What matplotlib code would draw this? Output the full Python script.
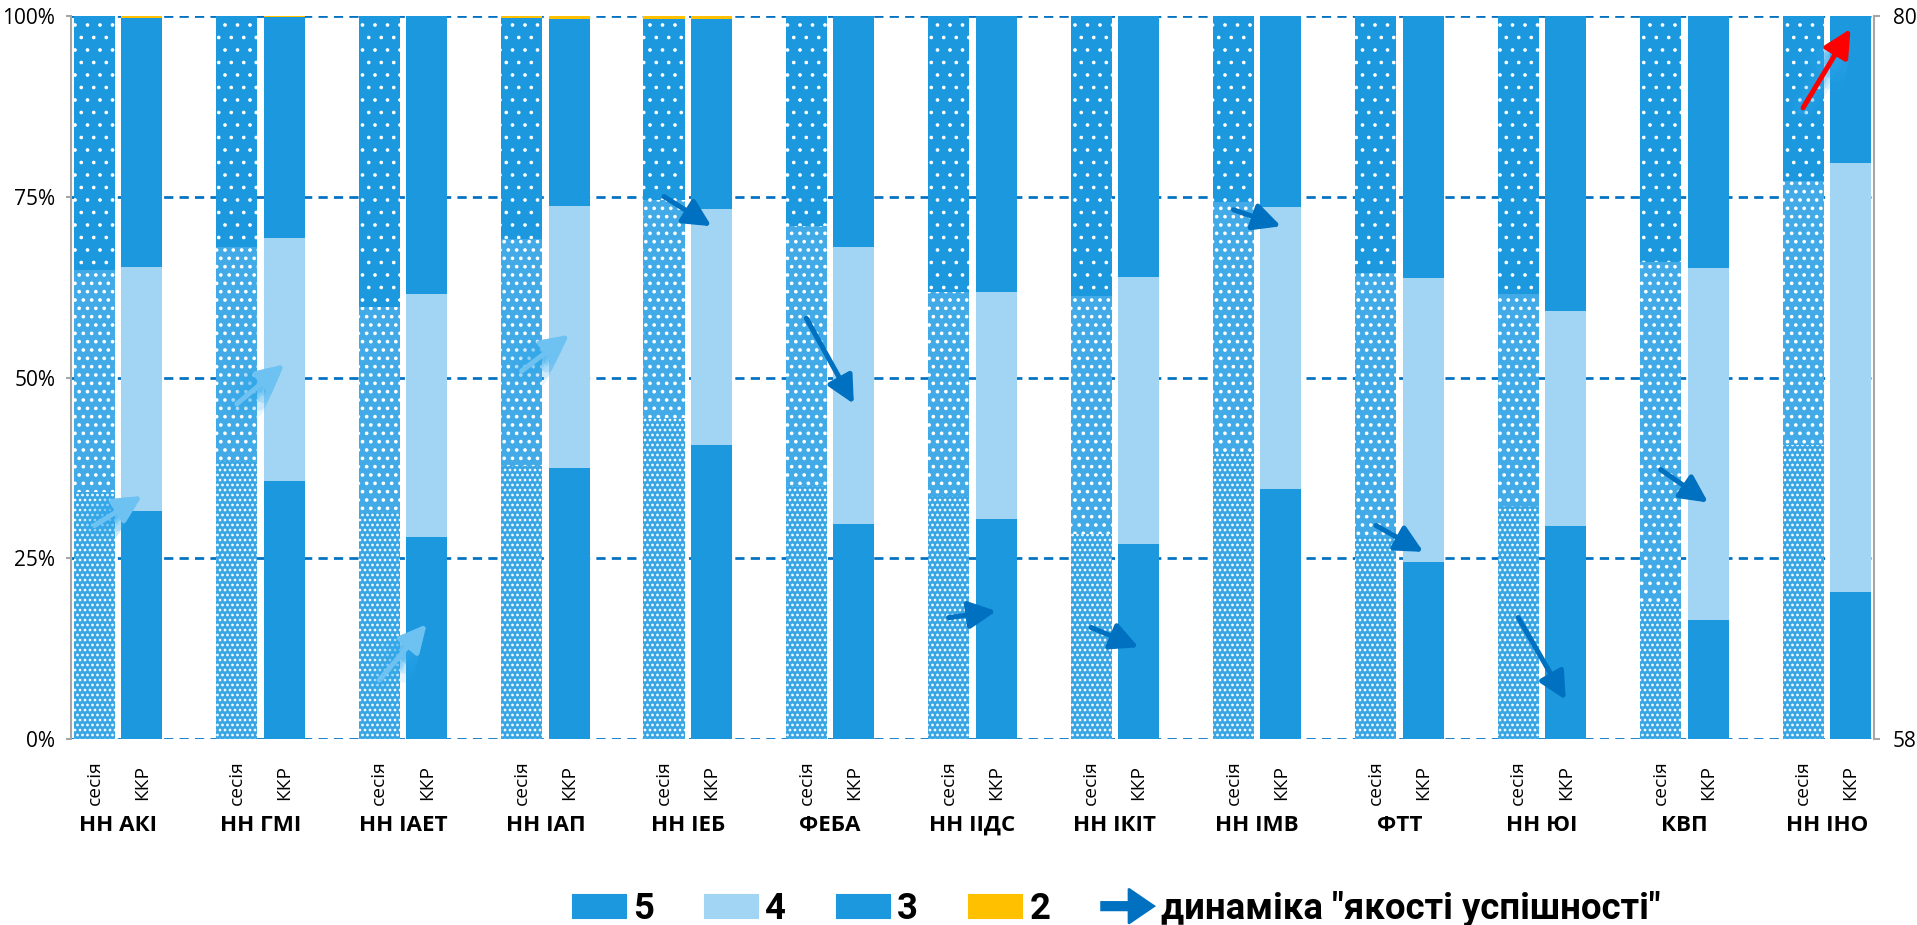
import matplotlib
matplotlib.use('Agg')
import matplotlib.pyplot as plt
import matplotlib.patches as mpatches
from matplotlib.patches import FancyArrowPatch
from matplotlib.legend_handler import HandlerPatch
import numpy as np

# ---- data (% of students by grade) ----
groups = ['НН АКІ', 'НН ГМІ', 'НН ІАЕТ', 'НН ІАП', 'НН ІЕБ', 'ФЕБА', 'НН ІІДС',
          'НН ІКІТ', 'НН ІМВ', 'ФТТ', 'НН ЮІ', 'КВП', 'НН ІНО']
bar_kinds = ['сесія', 'ККР']

ses_5 = [34.2, 38.5, 31.3, 37.8, 44.4, 35.0, 33.6, 28.4, 39.7, 27.9, 32.1, 18.7, 40.7]
ses_4 = [30.7, 29.6, 28.5, 31.3, 30.1, 35.9, 28.2, 32.9, 34.6, 36.6, 29.5, 47.3, 36.5]
ses_3 = [35.1, 31.9, 40.2, 30.6, 25.0, 29.1, 38.2, 38.7, 25.7, 35.5, 38.4, 34.0, 22.8]
ses_2 = [0.0, 0.0, 0.0, 0.3, 0.5, 0.0, 0.0, 0.0, 0.0, 0.0, 0.0, 0.0, 0.0]

kkr_5 = [31.6, 35.7, 28.0, 37.5, 40.7, 29.7, 30.4, 27.0, 34.6, 24.5, 29.5, 16.5, 20.3]
kkr_4 = [33.7, 33.6, 33.5, 36.2, 32.6, 38.4, 31.4, 36.9, 39.0, 39.2, 29.7, 48.6, 59.4]
kkr_3 = [34.4, 30.5, 38.5, 25.9, 26.2, 31.9, 38.2, 36.1, 26.4, 36.3, 40.8, 34.9, 20.3]
kkr_2 = [0.3, 0.2, 0.0, 0.4, 0.5, 0.0, 0.0, 0.0, 0.0, 0.0, 0.0, 0.0, 0.0]

# "якість успішності" (right axis, 58..80): session -> KKR
quality_ses = [64.5, 68.2, 59.8, 69.2, 74.5, 70.8, 61.7, 61.4, 74.1, 64.5, 61.7, 66.2, 77.2]
quality_kkr = [65.4, 69.4, 61.5, 70.3, 73.6, 68.2, 61.9, 60.8, 73.6, 63.7, 59.2, 65.2, 79.6]
arrow_kind = ['glow', 'glow', 'glow', 'glow', 'plain', 'plain', 'plain', 'plain',
              'plain', 'plain', 'plain', 'plain', 'red']

DPI = 150
dark = '#1B98DE'
light = '#A1D5F3'
yellow = '#FFC000'
line_blue = '#0070C0'
grey = '#A6A6A6'

plt.rcParams['font.family'] = ['Open Sans', 'DejaVu Sans']

fig = plt.figure(figsize=(1917 / DPI, 925 / DPI), dpi=DPI)
ax = fig.add_axes([0.0369, 0.2007, 0.9408, 0.7823])

x = np.arange(len(groups)) * 3
w = 0.864

# session bars: dotted fills, denser dots lower down
bottom = np.zeros(len(groups))
for vals, col, hatch, hlw in [(ses_5, '#38A6E5', '.....', 0.8),
                              (ses_4, '#42ABE7', '...', 0.95),
                              (ses_3, dark, '..', 0.55),
                              (ses_2, yellow, None, 0.5)]:
    with plt.rc_context({'hatch.linewidth': hlw}):
        ax.bar(x, vals, w, bottom=bottom, color=col, hatch=hatch,
               edgecolor='white', linewidth=0)
    bottom += np.array(vals)

bottom = np.zeros(len(groups))
for vals, col in [(kkr_5, dark), (kkr_4, light), (kkr_3, dark), (kkr_2, yellow)]:
    ax.bar(x + 1, vals, w, bottom=bottom, color=col, linewidth=0)
    bottom += np.array(vals)

ax.set_xlim(-0.5, 37.5)
ax.set_ylim(0, 100)
ax.set_yticks([0, 25, 50, 75, 100])
ax.set_yticklabels(['0%', '25%', '50%', '75%', '100%'])
ax.yaxis.grid(True, color=line_blue, lw=1.3, linestyle=(0, (3.4, 2.3)))
ax.set_axisbelow(True)
for s in ['top', 'bottom', 'right']:
    ax.spines[s].set_visible(False)
ax.spines['left'].set_color(grey)
ax.spines['left'].set_linewidth(1)
ax.tick_params(axis='y', length=2.4, width=1, color=grey, pad=5, labelsize=10)
ax.tick_params(axis='x', bottom=False, labelbottom=False)

xt = ax.get_xaxis_transform()
for i, g in enumerate(groups):
    for k, lab in enumerate(bar_kinds):
        ax.text(x[i] + k, -0.0594, lab, rotation=90, ha='center', va='center',
                transform=xt, fontsize=9.2)
    ax.text(x[i] + 0.5, -0.1184, g, ha='center', va='center', transform=xt,
            fontsize=10.75, fontweight='bold')

ax2 = ax.twinx()
ax2.set_ylim(58, 80)
ax2.set_yticks([58, 80])
for s in ['top', 'bottom', 'left']:
    ax2.spines[s].set_visible(False)
ax2.spines['right'].set_color(grey)
ax2.spines['right'].set_linewidth(1)
ax2.tick_params(axis='y', length=3, width=1, color=grey, pad=6, labelsize=10)

style = '-|>,head_length=11,head_width=5.5'
for i in range(len(groups)):
    p0 = (x[i], quality_ses[i])
    p1 = (x[i] + 1, quality_kkr[i])
    kind = arrow_kind[i]
    if kind == 'plain':
        main = line_blue
    elif kind == 'glow':
        main = '#6EC2F1'
    else:
        main = '#FF0000'
    if kind != 'plain':
        for lw, a in [(12, 0.10), (9, 0.14), (6, 0.2)]:
            ax2.add_patch(FancyArrowPatch(p0, p1, arrowstyle=style, mutation_scale=1,
                                          lw=lw, color='#2FA8EE', alpha=a,
                                          shrinkA=0, shrinkB=0))
    ax2.add_patch(FancyArrowPatch(p0, p1, arrowstyle=style, mutation_scale=1,
                                  lw=2.4, color=main, shrinkA=0, shrinkB=0))

# ---- legend ----
handles = [mpatches.Patch(color=dark, label='5'),
           mpatches.Patch(color=light, label='4'),
           mpatches.Patch(color=dark, label='3'),
           mpatches.Patch(color=yellow, label='2'),
           mpatches.Patch(color=line_blue, label='динаміка "якості успішності"')]


def arrow_handle(legend, orig_handle, xdescent, ydescent, width, height, fontsize):
    return mpatches.FancyArrow(-xdescent, height / 2 - ydescent, width, 0,
                               width=height * 0.35, head_width=height * 1.5,
                               head_length=height * 1.1, length_includes_head=True)


fig.legend(handles=handles, loc='center left',
           bbox_to_anchor=(573 / 1917, 1 - 909 / 925), ncol=5, frameon=False,
           prop={'family': ['Roboto', 'Open Sans'], 'weight': 'bold', 'size': 17.5},
           handlelength=1.45, handleheight=0.6, handletextpad=0.2,
           columnspacing=1.4, borderpad=0, borderaxespad=0,
           handler_map={handles[4]: HandlerPatch(patch_func=arrow_handle)})

fig.savefig('out.png', dpi=DPI)
